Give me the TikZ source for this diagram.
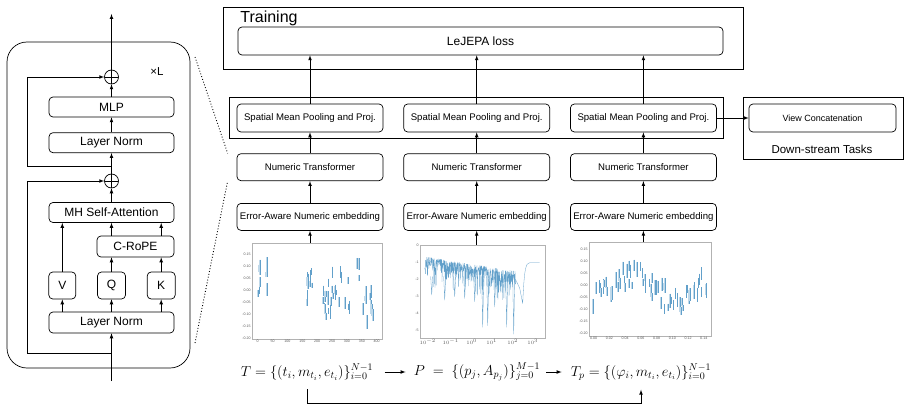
\documentclass[tikz,border=0pt]{standalone}
\usepackage{fontspec}
\setmainfont{Liberation Sans}
\usetikzlibrary{arrows}
\usetikzlibrary{positioning,calc}
\definecolor{mplblue}{RGB}{31,119,180}
\tikzset{
  blk/.style={draw, rounded corners=4pt, line width=0.7pt, inner sep=0pt,
    minimum height=20pt, font=\fontsize{12}{14}\selectfont},
  sblk/.style={draw, rounded corners=4pt, line width=0.7pt, inner sep=0pt,
    minimum width=146pt, minimum height=27pt, font=\fontsize{9.6}{11}\selectfont},
  grp/.style={draw, line width=0.7pt, inner sep=0pt},
  addop/.style={draw, circle, line width=0.7pt, inner sep=0pt, minimum size=14pt,
    path picture={\draw (path picture bounding box.north) -- (path picture bounding box.south)
      (path picture bounding box.west) -- (path picture bounding box.east);}},
  fig/.style={draw=gray!60, line width=0.6pt, inner sep=0pt},
  tick/.style={font=\fontsize{3.6}{4}\selectfont, text=gray!70!black, inner sep=0.8pt},
  ebar/.style={mplblue!28, line width=1.5pt},
  emid/.style={mplblue!70, line width=0.3pt},
  line2/.style={mplblue!70, line width=0.3pt, line join=round},
  formula/.style={font=\fontsize{14}{16}\selectfont, inner sep=1pt}
}

\begin{document}
\begin{tikzpicture}[x=1pt, y=-1pt, >=latex, line width=0.7pt]
  \useasboundingbox (0,0) rectangle (909,409);
  \pgfmathsetseed{11}

  % encoder layer
  \node (panel) at (98.5,205) [grp, rounded corners=20pt, minimum width=183, minimum height=326] {};
  \node (times) at (157,72) [font=\fontsize{11.5}{13}\selectfont] {×L};
  \node (addA) at (111.5,77) [addop] {};
  \node (mlp) at (111.5,107) [blk, minimum width=125] {MLP};
  \node (lnA) [blk, minimum width=125, below=15pt of mlp] {Layer Norm};
  \node (addB) at (111.5,181) [addop] {};
  \node (mhsa) at (111.5,212.5) [blk, minimum width=125] {MH Self-Attention};
  \node (crope) at (135.5,246.5) [blk, minimum width=77, minimum height=21] {C-RoPE};
  \node (Q) at (111.5,285.5) [blk, minimum width=28, minimum height=27] {Q};
  \node (V) [blk, minimum width=27, minimum height=27, left=21pt of Q] {V};
  \node (K) [blk, minimum width=28, minimum height=27, right=21pt of Q] {K};
  \node (lnB) at (111.5,322.5) [blk, minimum width=125, minimum height=21] {Layer Norm};
  \coordinate (inp) at (111.5,381);
  \coordinate (outp) at (111.5,14);
  \coordinate (skipA) at (111.5,166);
  \coordinate (skipB) at (111.5,353);

  \draw[->] (inp) -- (lnB);
  \draw[->] (lnB.north -| V) -- (V);
  \draw[->] (lnB) -- (Q);
  \draw[->] (lnB.north -| K) -- (K);
  \draw[->] (V) -- (V |- mhsa.south);
  \draw[->] (Q) -- (crope.south -| Q);
  \draw[->] (K) -- (crope.south -| K);
  \draw[->] (crope.north -| Q) -- (mhsa.south -| Q);
  \draw[->] (crope.north -| K) -- (mhsa.south -| K);
  \draw[->] (mhsa) -- (addB);
  \draw[->] (addB) -- (lnA);
  \draw[->] (lnA) -- (mlp);
  \draw[->] (mlp) -- (addA);
  \draw[->] (addA) -- (outp);
  \draw[->] (skipB) -| ([xshift=-84pt]addB.center) -- (addB);
  \draw[->] (skipA) -| ([xshift=-84pt]addA.center) -- (addA);

  % training branch
  \node (train) at (483,38) [grp, minimum width=520, minimum height=62] {};
  \node (ttrain) at (240,18) [anchor=west, inner sep=0pt, font=\fontsize{16}{18}\selectfont] {Training};
  \node (loss) at (480.5,41) [blk, minimum width=485, minimum height=28] {LeJEPA loss};
  \node (poolbox) at (476,117.5) [grp, minimum width=494, minimum height=41] {};

  \node (poolA) at (310,118) [sblk, minimum height=28] {Spatial Mean Pooling and Proj.};
  \node (poolB) [sblk, minimum height=28, right=20pt of poolA] {Spatial Mean Pooling and Proj.};
  \node (poolC) [sblk, minimum height=28, right=20pt of poolB] {Spatial Mean Pooling and Proj.};
  \node (ntA) [sblk, below=21pt of poolA] {Numeric Transformer};
  \node (ntB) [sblk, below=21pt of poolB] {Numeric Transformer};
  \node (ntC) [sblk, below=21pt of poolC] {Numeric Transformer};
  \node (embA) [sblk, below=22pt of ntA] {Error-Aware Numeric embedding};
  \node (embB) [sblk, below=22pt of ntB] {Error-Aware Numeric embedding};
  \node (embC) [sblk, below=22pt of ntC] {Error-Aware Numeric embedding};

  \node (down) at (823,128) [grp, minimum width=160, minimum height=62] {};
  \node (view) at (822.5,118) [sblk, minimum width=147, minimum height=28,
    font=\fontsize{9}{11}\selectfont] {View Concatenation};
  \node (tdown) at (822,149) [font=\fontsize{11.5}{13}\selectfont] {Down-stream Tasks};

  \draw[->] (poolA) -- (poolA |- loss.south);
  \draw[->] (poolB) -- (poolB |- loss.south);
  \draw[->] (poolC) -- (poolC |- loss.south);
  \draw[->] (ntA) -- (poolA);
  \draw[->] (ntB) -- (poolB);
  \draw[->] (ntC) -- (poolC);
  \draw[->] (embA) -- (ntA);
  \draw[->] (embB) -- (ntB);
  \draw[->] (embC) -- (ntC);
  \draw[->] (poolC) -- (view);

  % zoom lines
  \coordinate (zoomA) at (195,57);
  \coordinate (zoomB) at (195,343);
  \draw[dotted, line width=0.9pt] (zoomA) -- ([xshift=-9pt]ntA.north west);
  \draw[dotted, line width=0.9pt] (zoomB) -- ([xshift=-9pt]ntA.south west);

  % light curve
  \node (plotA) at (317,291) [fig, minimum width=130, minimum height=96] {};
  \begin{scope}[shift={(plotA.north west)}]
    \foreach \v/\t in {0.15/0.15,0.10/0.10,0.05/0.05,0.00/0.00,-0.05/-0.05,-0.10/-0.10,-0.15/-0.15,-0.20/-0.20}
      \node[tick, anchor=east] at (0,{48-240*\v}) {\t};
    \foreach \d in {0,50,...,400}
      \node[tick, anchor=north] at ({6+0.2975*\d},96) {\d};
    \foreach \cx/\w/\cv/\n in {0/10/0.03/7,26/8/0.06/4,165/20/0.01/13,220/28/-0.03/14,
        250/60/0.01/15,333/10/0.08/4,352/38/-0.06/11} {
      \foreach \j in {1,...,\n} {
        \pgfmathsetmacro\xx{6+0.2975*(\cx+\w*rnd)}
        \pgfmathsetmacro\yy{48-240*(\cv+0.08*rand)}
        \pgfmathsetmacro\ee{240*(0.01+0.018*rnd)}
        \draw[ebar] (\xx,{\yy-\ee}) -- (\xx,{\yy+\ee});
        \draw[emid] (\xx,{\yy-\ee}) -- (\xx,{\yy+\ee});
      }
    }
  \end{scope}

  % periodogram
  \node (plotB) at (482.5,291.5) [fig, minimum width=125, minimum height=93] {};
  \begin{scope}[shift={(plotB.north west)}]
    \foreach \v in {0,-1,-2,-3,-4,-5}
      \node[tick, anchor=east] at (0,{1-17*\v}) {\v};
    \foreach \p/\px in {-2/8,-1/31,0/52,1/72,2/93,3/113}
      \node[tick, anchor=north] at (\px,93) {$10^{\p}$};
    \draw[line2] plot[domain=5:96, samples=400] (\x,{1+17*(0.6+0.9*\x/96+1.9*rnd*rnd)});
    \foreach \dx/\dv in {12/2.9,25/3.2,35/3.0,45/3.1,55/3.3,63/4.8,68/4.7,75/3.6,87/4.8,94/5.2}
      \draw[line2] (\dx-1,{1+17*1.8}) -- (\dx,{1+17*\dv}) -- (\dx+1,{1+17*1.8});
    \draw[line2] (96,{1+17*2.0}) -- (100,{1+17*2.5}) -- (103,{1+17*3.4})
      .. controls (104.5,{1+17*1.4}) and (106,{1+17*1.0}) .. (110,{1+17*1.0}) -- (120,{1+17*1.0});
  \end{scope}

  % folded curve
  \node (plotC) at (650,289.5) [fig, minimum width=122, minimum height=94] {};
  \begin{scope}[shift={(plotC.north west)}]
    \foreach \v/\t in {0.15/0.15,0.10/0.10,0.05/0.05,0.00/0.00,-0.05/-0.05,-0.10/-0.10,-0.15/-0.15,-0.20/-0.20}
      \node[tick, anchor=east] at (0,{43-242*\v}) {\t};
    \foreach \d in {0.00,0.02,0.04,0.06,0.08,0.10,0.12,0.14}
      \node[tick, anchor=north] at ({5+786*\d},94) {\d};
    \foreach \k in {0,...,69} {
      \pgfmathsetmacro\dd{0.145*\k/69+0.002*rand}
      \pgfmathsetmacro\xx{5+786*\dd}
      \pgfmathsetmacro\yy{43-242*(-0.01+0.055*sin(360*(\dd-0.018)/0.115)+0.05*rand)}
      \pgfmathsetmacro\ee{242*(0.012+0.02*rnd)}
      \draw[ebar] (\xx,{\yy-\ee}) -- (\xx,{\yy+\ee});
      \draw[emid] (\xx,{\yy-\ee}) -- (\xx,{\yy+\ee});
    }
  \end{scope}

  \draw[->] (plotA.north -| embA) -- (embA);
  \draw[->] (plotB.north -| embB) -- (embB);
  \draw[->] (plotC.north -| embC) -- (embC);

  % inputs
  \node (fT) at (307,372) [formula] {$T=\{(t_i,m_{t_i},e_{t_i})\}_{i=0}^{N-1}$};
  \node (fP) at (477,372) [formula] {$P\ =\ \{(p_j,A_{p_j})\}_{j=0}^{M-1}$};
  \node (fTp) at (641,372) [formula] {$T_p=\{(\varphi_i,m_{t_i},e_{t_i})\}_{i=0}^{N-1}$};
  \draw[->, shorten <=10pt, shorten >=7pt] (fT) -- (fP);
  \draw[->, shorten <=5pt, shorten >=8pt] (fP) -- (fTp);
  \draw[->, shorten >=8pt] ([yshift=-8pt]fT.south) -- ++(0,14) -| (fTp.south);
\end{tikzpicture}
\end{document}
